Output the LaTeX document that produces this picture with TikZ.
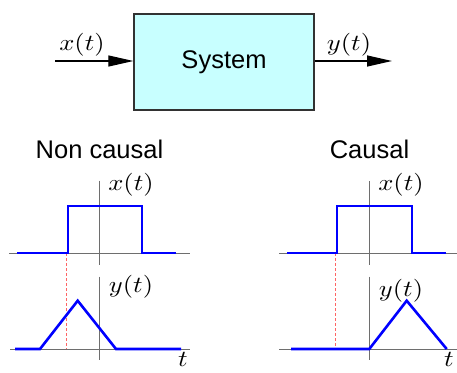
\documentclass[tikz,border=0pt]{standalone}
\usepackage{graphicx}
\usepackage{fontspec}
\newfontfamily\hv{Liberation Sans}
\usetikzlibrary{arrows.meta}
\definecolor{boxcyan}{RGB}{200,255,255}
\definecolor{axgray}{RGB}{110,110,110}
\definecolor{dashred}{RGB}{255,100,100}
\tikzset{
  sysbox/.style={draw={rgb,255:red,50;green,50;blue,50}, line width=1.3pt, fill=boxcyan,
    minimum width=180pt, minimum height=96pt, inner sep=0pt,
    font=\hv\fontsize{25.5}{30}\selectfont},
  conn/.style={line width=1.2pt, -{Triangle[length=25pt,width=11pt]}},
  mlab/.style={inner sep=0pt, anchor=base},
  ttl/.style={inner sep=0pt, anchor=base, font=\hv\fontsize{25.5}{30}\selectfont},
  axisline/.style={draw=axgray, line width=1pt},
  sig/.style={draw=blue, line width=2pt, line join=miter},
  sigb/.style={draw=blue, line width=2.6pt, line join=miter},
  guide/.style={draw=dashred, line width=1pt, dash pattern=on 3pt off 2pt}
}
\newcommand{\ml}[1]{\scalebox{2.65}[2.3]{$#1$}}
\begin{document}
\begin{tikzpicture}[x=1pt,y=-1pt]
\useasboundingbox (0,0) rectangle (457,372);
% block diagram
\node[sysbox] (sys) at (224,62) {System};
\coordinate (in) at (55,61);
\coordinate (out) at (392,61);
\draw[conn] (in) -- (in -| sys.west);
\draw[conn] (out -| sys.east) -- (out);
\node[mlab] (xin) at (82,50.6) {\ml{x(t)}};
\node[mlab] (yout) at (349,50.6) {\ml{y(t)}};
% titles
\node[ttl] (nc) at (99.5,158.3) {Non causal};
\node[ttl] (ca) at (369.5,158.3) {Causal};
% left panel axes
\draw[axisline] (9,253.3) -- (190,253.3);
\draw[axisline] (99,180.7) -- (99,265);
\draw[axisline] (10,349) -- (190,349);
\draw[axisline] (99,276.7) -- (99,360);
% right panel axes
\draw[axisline] (279,253.3) -- (457,253.3);
\draw[axisline] (369.3,181) -- (369.3,265);
\draw[axisline] (279,349) -- (457,349);
\draw[axisline] (369.3,276.7) -- (369.3,360);
% dashed guides
\draw[guide] (66.5,253.3) -- (66.5,349);
\draw[guide] (335.3,253.3) -- (335.3,349);
% signals
\draw[sig] (17,253.3) -- (68,253.3) -- (68,205.7) -- (141.7,205.7) -- (141.7,253.3) -- (175.7,253.3);
\draw[sigb] (15,349) -- (40,349) -- (77.7,300.7) -- (116,349) -- (181,349);
\draw[sig] (287,253.3) -- (336.7,253.3) -- (336.7,205.7) -- (411.7,205.7) -- (411.7,253.3) -- (446,253.3);
\draw[sigb] (291,349) -- (369.3,349) -- (406.7,300.7) -- (446.7,349);
% labels
\node[mlab] (xl) at (131,190.7) {\ml{x(t)}};
\node[mlab] (yl) at (131,292.4) {\ml{y(t)}};
\node[mlab] (xr) at (401,190.7) {\ml{x(t)}};
\node[mlab] (yr) at (401,296) {\ml{y(t)}};
\node[mlab] (tl) at (183,366.5) {\ml{t}};
\node[mlab] (tr) at (449,366.5) {\ml{t}};
\end{tikzpicture}
\end{document}
